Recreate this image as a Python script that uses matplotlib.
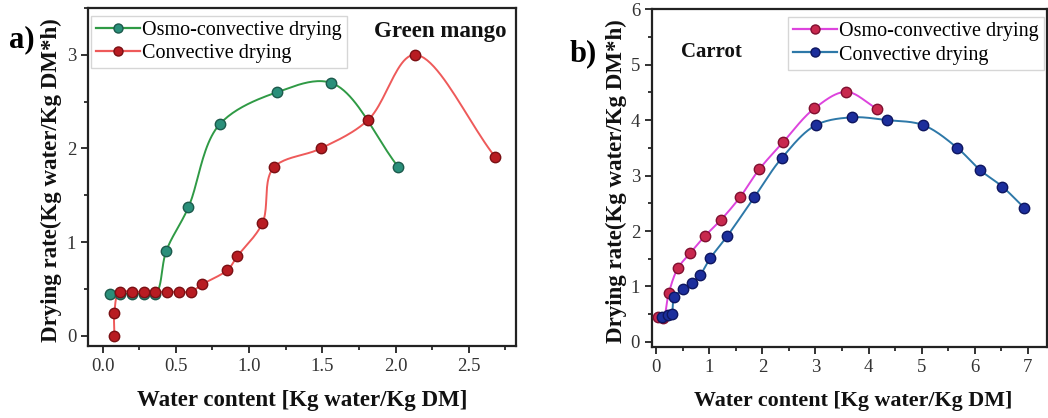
import numpy as np
import matplotlib
matplotlib.use("Agg")
import matplotlib.pyplot as plt
from matplotlib.ticker import MultipleLocator, FormatStrFormatter

plt.rcParams['font.family'] = ['Liberation Serif', 'DejaVu Serif']

# ---- data: panel a (Green mango)
a_osmo_x = [0.05, 0.12, 0.20, 0.28, 0.36, 0.435, 0.585, 0.80, 1.19, 1.56, 2.02]
a_osmo_y = [0.45, 0.45, 0.45, 0.45, 0.45, 0.91, 1.37, 2.26, 2.60, 2.70, 1.80]
a_conv_x = [0.08, 0.08, 0.115, 0.20, 0.28, 0.36, 0.44, 0.52, 0.60, 0.68, 0.85, 0.92, 1.09, 1.17, 1.49, 1.81, 2.13, 2.68]
a_conv_y = [0.00, 0.245, 0.47, 0.47, 0.47, 0.47, 0.47, 0.47, 0.47, 0.55, 0.70, 0.85, 1.20, 1.80, 2.00, 2.30, 3.00, 1.91]

# ---- data: panel b (Carrot)
b_osmo_x = [0.04, 0.13, 0.24, 0.41, 0.64, 0.92, 1.22, 1.58, 1.94, 2.39, 2.98, 3.58, 4.16]
b_osmo_y = [0.45, 0.44, 0.89, 1.33, 1.60, 1.91, 2.20, 2.61, 3.11, 3.60, 4.21, 4.51, 4.20]
b_conv_x = [0.12, 0.22, 0.29, 0.34, 0.51, 0.67, 0.83, 1.02, 1.34, 1.85, 2.37, 3.01, 3.69, 4.35, 5.03, 5.67, 6.10, 6.52, 6.93]
b_conv_y = [0.45, 0.48, 0.51, 0.81, 0.95, 1.06, 1.21, 1.51, 1.91, 2.61, 3.32, 3.91, 4.05, 4.00, 3.91, 3.50, 3.10, 2.80, 2.42]

legend_labels = ["Osmo-convective drying", "Convective drying"]


def smooth(x, y, xr, yr, n=24, alpha=0.5):
    """Centripetal Catmull-Rom path through the points (for drawing only)."""
    P = np.column_stack([np.asarray(x, float) / xr, np.asarray(y, float) / yr])
    P = np.vstack([2 * P[0] - P[1], P, 2 * P[-1] - P[-2]])
    out = []
    for i in range(1, len(P) - 2):
        p0, p1, p2, p3 = P[i - 1], P[i], P[i + 1], P[i + 2]
        def tj(ti, a, b):
            return ti + max(np.linalg.norm(b - a), 1e-6) ** alpha
        t0 = 0.0
        t1 = tj(t0, p0, p1)
        t2 = tj(t1, p1, p2)
        t3 = tj(t2, p2, p3)
        t = np.linspace(t1, t2, n)[:, None]
        A1 = (t1 - t) / (t1 - t0) * p0 + (t - t0) / (t1 - t0) * p1
        A2 = (t2 - t) / (t2 - t1) * p1 + (t - t1) / (t2 - t1) * p2
        A3 = (t3 - t) / (t3 - t2) * p2 + (t - t2) / (t3 - t2) * p3
        B1 = (t2 - t) / (t2 - t0) * A1 + (t - t0) / (t2 - t0) * A2
        B2 = (t3 - t) / (t3 - t1) * A2 + (t - t1) / (t3 - t1) * A3
        C = (t2 - t) / (t2 - t1) * B1 + (t - t1) / (t2 - t1) * B2
        out.append(C if i == 1 else C[1:])
    C = np.vstack(out)
    return C[:, 0] * xr, C[:, 1] * yr


fig = plt.figure(figsize=(10.48, 4.18), dpi=100)
axa = fig.add_axes([0.084, 0.172, 0.408, 0.809])
axb = fig.add_axes([0.622, 0.170, 0.377, 0.808])


def draw(ax, x, y, lc, mc, ec, xr, yr, label):
    sx, sy = smooth(x, y, xr, yr)
    ax.plot(sx, sy, color=lc, lw=1.4, zorder=2)
    ax.plot(x, y, ls='none', marker='o', ms=7.5, mfc=mc, mec=ec, mew=1.0, zorder=3)
    return ax.plot([], [], color=lc, lw=1.6, marker='o', ms=6.5, mfc=mc, mec=ec, label=label)[0]


ha1 = draw(axa, a_osmo_x, a_osmo_y, '#2f9a45', '#2a8f7a', '#1c5a4c', 2.9, 3.6, legend_labels[0])
ha2 = draw(axa, a_conv_x, a_conv_y, '#ee5a5a', '#b81c22', '#7a1014', 2.9, 3.6, legend_labels[1])
hb1 = draw(axb, b_osmo_x, b_osmo_y, '#dd44dd', '#c8284e', '#801030', 7.4, 6.1, legend_labels[0])
hb2 = draw(axb, b_conv_x, b_conv_y, '#2d78a8', '#1c2e9c', '#0e1660', 7.4, 6.1, legend_labels[1])

axa.set_xlim(-0.1, 2.82)
axa.set_ylim(-0.11, 3.5)
axa.xaxis.set_major_locator(MultipleLocator(0.5))
axa.xaxis.set_minor_locator(MultipleLocator(0.25))
axa.yaxis.set_major_locator(MultipleLocator(1))
axa.yaxis.set_minor_locator(MultipleLocator(0.5))
axa.xaxis.set_major_formatter(FormatStrFormatter('%.1f'))

axb.set_xlim(-0.08, 7.36)
axb.set_ylim(-0.09, 6.0)
axb.xaxis.set_major_locator(MultipleLocator(1))
axb.xaxis.set_minor_locator(MultipleLocator(0.5))
axb.yaxis.set_major_locator(MultipleLocator(1))
axb.yaxis.set_minor_locator(MultipleLocator(0.5))

for ax in (axa, axb):
    for s in ax.spines.values():
        s.set_linewidth(1.6)
        s.set_color('#222222')
    ax.tick_params(which='major', direction='out', length=5, width=1.3, labelsize=13.5,
                   colors='#222222', labelcolor='#333333')
    ax.tick_params(which='minor', direction='out', length=3, width=1.1)
    ax.tick_params(top=False, right=False, which='both')

label_kw = dict(fontsize=16.5, fontweight='bold', color='#111111')
axa.set_xlabel("Water content [Kg water/Kg DM]", **label_kw)
axa.set_ylabel("Drying rate(Kg water/Kg DM*h)", **label_kw)
axa.xaxis.set_label_coords(0.5, -0.13)
axa.yaxis.set_label_coords(-0.06, 0.49)

axb.set_xlabel("Water content [Kg water/Kg DM]", fontsize=15.8, fontweight='bold', color='#111111')
axb.set_ylabel("Drying rate(Kg water/Kg DM*h)", **label_kw)
axb.xaxis.set_label_coords(0.51, -0.13)
axb.yaxis.set_label_coords(-0.062, 0.49)

leg_kw = dict(fontsize=14.5, frameon=True, fancybox=False, edgecolor='#cccccc',
              handlelength=2.2, handletextpad=0.1, borderpad=0.25, labelspacing=0.2,
              borderaxespad=0.15)
lega = axa.legend(handles=[ha1, ha2], loc='upper left', bbox_to_anchor=(0.0, 0.985), **leg_kw)
legb = axb.legend(handles=[hb1, hb2], loc='upper right', bbox_to_anchor=(1.0, 0.985), **leg_kw)
for lg in (lega, legb):
    lg.get_frame().set_linewidth(1.0)

axa.text(0.978, 0.929, "Green mango", transform=axa.transAxes, ha='right', va='center',
         fontsize=16.5, fontweight='bold', color='#111111')
axb.text(0.075, 0.873, "Carrot", transform=axb.transAxes, ha='left', va='center',
         fontsize=15, fontweight='bold', color='#111111')

fig.text(0.009, 0.905, "a)", fontsize=22, fontweight='bold', ha='left', va='center')
fig.text(0.543, 0.872, "b)", fontsize=22, fontweight='bold', ha='left', va='center')

fig.savefig("out.png", dpi=100)
